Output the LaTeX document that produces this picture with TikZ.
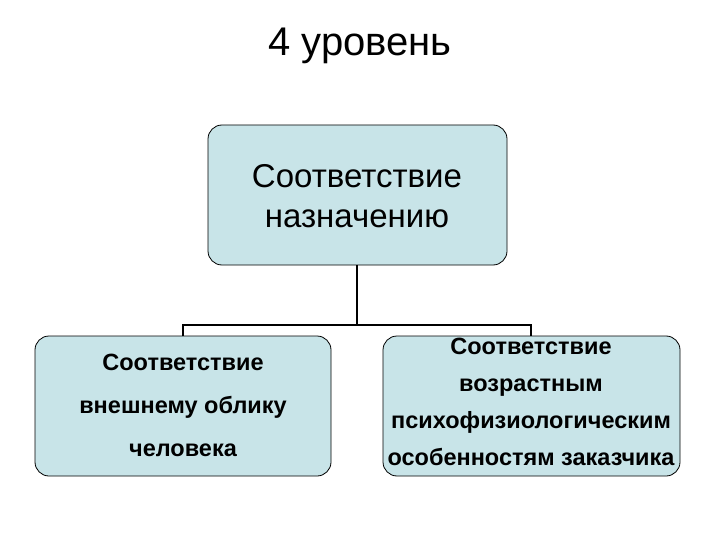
\documentclass[tikz,border=0pt]{standalone}
\usepackage{fontspec}
\setmainfont{Liberation Sans}
\definecolor{boxfill}{RGB}{200,228,232}
\begin{document}
\begin{tikzpicture}[x=1pt,y=-1pt,
  box/.style={draw=black,line width=0.8pt,fill=boxfill,rounded corners=14pt,inner sep=0pt},
  conn/.style={draw=black,line width=1.2pt}]
\useasboundingbox (0,0) rectangle (720,540);
\node[font=\fontsize{40}{46}\selectfont] (title) at (360,46) {4 уровень};
\path[box] (208,125) rectangle (507,265);
\node[font=\fontsize{33}{40}\selectfont,align=center] (top) at (357,196) {Соответствие\\ назначению};
\path[box] (35,336) rectangle (331,476);
\node[font=\fontsize{23.5}{43}\selectfont\bfseries,align=center] (left) at (183,405) {Соответствие\\внешнему облику\\человека};
\path[box] (383,336) rectangle (680,476);
\node[font=\fontsize{23.5}{37}\selectfont\bfseries,align=center] (right) at (531,402) {Соответствие\\возрастным\\психофизиологическим\\особенностям заказчика};
\coordinate (tb) at (357,265);
\coordinate (j) at (357,325);
\coordinate (lj) at (183,325);
\coordinate (rj) at (531,325);
\coordinate (lt) at (183,336);
\coordinate (rt) at (531,336);
\draw[conn] (tb) -- (j);
\draw[conn] (lt) -- (lj) -- (rj) -- (rt);
\end{tikzpicture}
\end{document}
